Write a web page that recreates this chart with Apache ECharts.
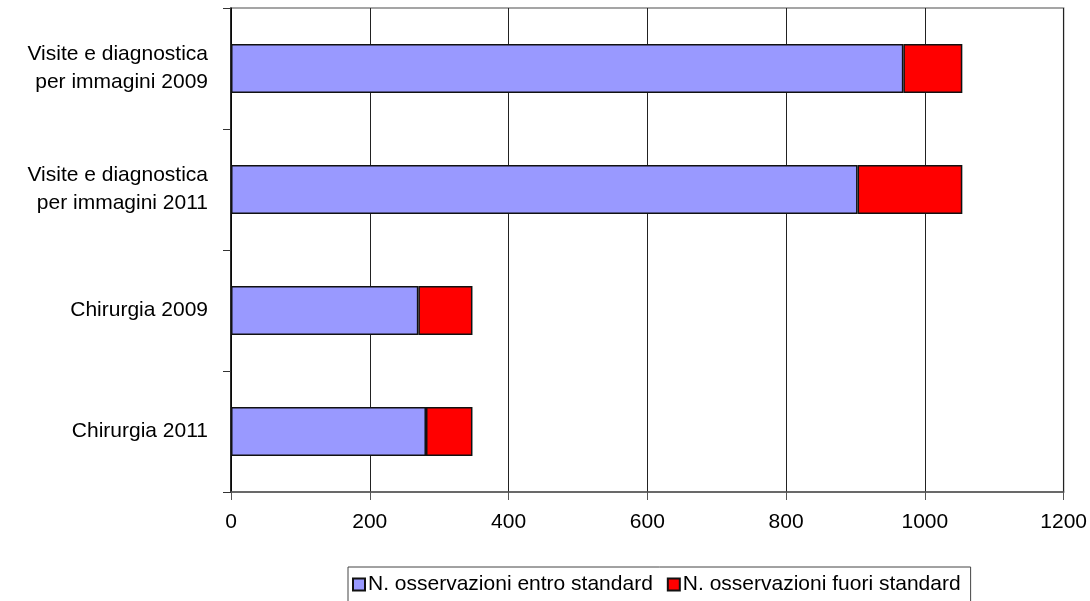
<!DOCTYPE html>
<html>
<head>
<meta charset="utf-8">
<script src="https://cdn.jsdelivr.net/npm/echarts@6/dist/echarts.min.js"></script>
<style>
  html, body { margin: 0; padding: 0; background: #fff; }
  #chart { width: 1090px; height: 601px; }
</style>
</head>
<body>
<div id="chart"></div>
<script>
// Categories listed top to bottom
const categories = [
  'Visite e diagnostica\nper immagini 2009',
  'Visite e diagnostica\nper immagini 2011',
  'Chirurgia 2009',
  'Chirurgia 2011'
];
const seriesNames = ['N. osservazioni entro standard', 'N. osservazioni fuori standard'];
const entroStandard = [969, 903, 270, 281];
const fuoriStandard = [85, 151, 78, 67];
const xTicks = { min: 0, max: 1200, interval: 200 };

const FONT = '"Liberation Sans", Arial, sans-serif';
const chart = echarts.init(document.getElementById('chart'), null, { renderer: 'canvas' });

chart.setOption({
  animation: false,
  backgroundColor: '#ffffff',
  textStyle: { fontFamily: FONT, color: '#000' },
  grid: {
    left: 231, right: 23, top: 8, bottom: 109,
    show: true, borderColor: '#888', borderWidth: 1.5, containLabel: false
  },
  legend: {
    left: 348, top: 567,
    orient: 'horizontal',
    itemWidth: 12, itemHeight: 12, itemGap: 14,
    icon: 'rect',
    padding: [7, 10, 7, 4],
    borderColor: '#444', borderWidth: 1,
    textStyle: { fontFamily: FONT, fontSize: 21, color: '#000', padding: [0, 0, 0, -2] },
    data: seriesNames
  },
  xAxis: {
    type: 'value',
    min: xTicks.min, max: xTicks.max, interval: xTicks.interval,
    axisLine: { show: true, onZero: false, lineStyle: { color: '#555', width: 1.5 } },
    axisTick: { show: true, length: 8, lineStyle: { color: '#555', width: 1 } },
    axisLabel: {
      fontFamily: FONT, fontSize: 21, color: '#000', margin: 20,
      formatter: v => String(v)
    },
    splitLine: { show: true, lineStyle: { color: '#222', width: 1 } }
  },
  yAxis: {
    type: 'category',
    inverse: true,
    data: categories,
    axisLine: { show: true, lineStyle: { color: '#000', width: 1.5 } },
    axisTick: { show: true, length: 8, alignWithLabel: false, lineStyle: { color: '#333', width: 1 } },
    axisLabel: { fontFamily: FONT, fontSize: 21, color: '#000', margin: 23, lineHeight: 28, align: 'right' },
    splitLine: { show: false }
  },
  series: [
    {
      name: seriesNames[0], type: 'bar', stack: 'tot',
      data: entroStandard, barWidth: 49,
      itemStyle: { color: '#9999FF', borderColor: '#111', borderWidth: 1.5 }
    },
    {
      name: seriesNames[1], type: 'bar', stack: 'tot',
      data: fuoriStandard, barWidth: 49,
      itemStyle: { color: '#FF0000', borderColor: '#111', borderWidth: 1.5 }
    }
  ]
});
</script>
</body>
</html>
